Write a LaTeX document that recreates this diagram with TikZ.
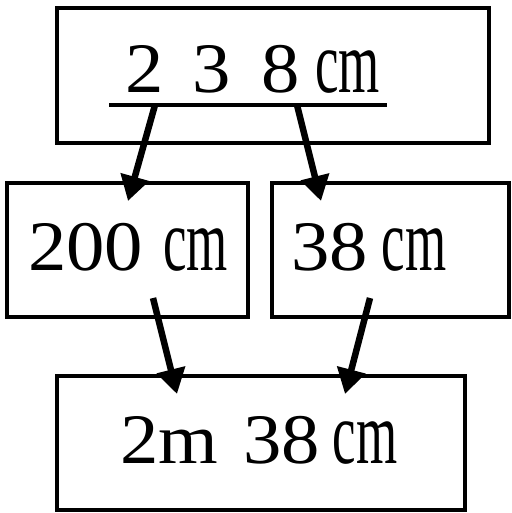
\documentclass[tikz,border=0pt]{standalone}
\usepackage{fontspec}
\usepackage{graphicx}
\setmainfont{Liberation Serif}[FakeStretch=1.08]
\usetikzlibrary{arrows.meta}
\newcommand{\cmunit}{\scalebox{0.69}[1.25]{cm}}
\begin{document}
\begin{tikzpicture}[x=1pt,y=-1pt,
  box/.style={draw, line width=3.2pt, inner sep=0pt},
  arr/.style={line width=6.5pt, -{Triangle[length=25pt,width=28pt]}},
  txt/.style={font=\fontsize{71}{71}\selectfont, inner sep=0pt, anchor=base west}]
\useasboundingbox (0,0) rectangle (511,513);
% boxes
\node[box, minimum width=432pt, minimum height=135pt] (top) at (273,75.5) {};
\node[box, minimum width=241pt, minimum height=134pt] (ml) at (127.5,250) {};
\node[box, minimum width=237pt, minimum height=134pt] (mr) at (390.5,250) {};
\node[box, minimum width=408pt, minimum height=134pt] (bot) at (261,443) {};
% texts
\node[txt] (t1) at (125,93) {2\hspace{29pt}3\hspace{31pt}8\hspace{15pt}\cmunit};
\node[txt] (t2) at (28,270) {200\hspace{20pt}\cmunit};
\node[txt] (t3) at (291,270) {38\hspace{14pt}\cmunit};
\node[txt] (t4) at (120,463) {2m\hspace{25pt}38\hspace{13pt}\cmunit};
% underline
\coordinate (ul1) at (109,105);
\coordinate (ul2) at (387,105);
\draw[line width=4.5pt] (ul1) -- (ul2);
% arrow endpoints
\coordinate (a1s) at (155,105); \coordinate (a1e) at (128,201);
\coordinate (a2s) at (297,105); \coordinate (a2e) at (321,201);
\coordinate (a3s) at (153,298); \coordinate (a3e) at (177,394);
\coordinate (a4s) at (370,298); \coordinate (a4e) at (345,394);
\draw[arr] (a1s) -- (a1e);
\draw[arr] (a2s) -- (a2e);
\draw[arr] (a3s) -- (a3e);
\draw[arr] (a4s) -- (a4e);
\end{tikzpicture}
\end{document}
